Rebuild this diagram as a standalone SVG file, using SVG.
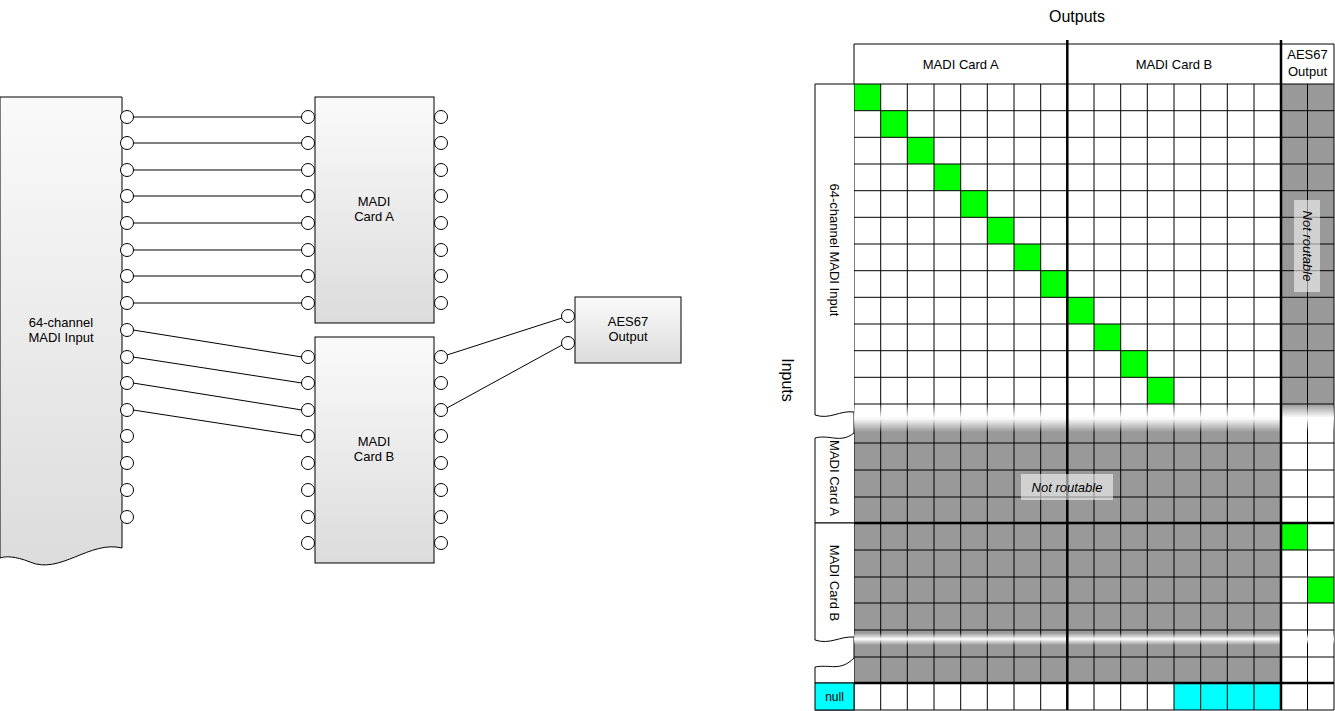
<svg xmlns="http://www.w3.org/2000/svg" width="1335" height="711" viewBox="0 0 1335 711">
<style>
text{font-family:"Liberation Sans",Arial,sans-serif;font-size:13px;fill:#000}
.box{stroke:#000;stroke-width:1;fill:url(#g)}
.p{fill:#fff;stroke:#000;stroke-width:1}
.c line,.c path{stroke:#000;stroke-width:1;fill:none}
.gl{stroke:#000;stroke-width:1}
.tk{stroke:#000;stroke-width:2.5}
.lab{fill:#fff;stroke:#000;stroke-width:1}
.nr{fill:#fff;fill-opacity:0.55}
</style>
<defs>
<linearGradient id="g" x1="0" y1="0" x2="0" y2="1"><stop offset="0" stop-color="#fafafa"/><stop offset="1" stop-color="#dcdcdc"/></linearGradient>
<linearGradient id="fade" x1="0" y1="0" x2="0" y2="1"><stop offset="0" stop-color="#fff" stop-opacity="0"/><stop offset="0.5" stop-color="#fff" stop-opacity="1"/><stop offset="1" stop-color="#fff" stop-opacity="0"/></linearGradient>
</defs>
<rect width="1335" height="711" fill="#fff"/>

<g id="madi-input">
<path class="box" d="M0,97 H122 V548 C90,540 60,575 30,562 C15,556 5,556 0,558 Z"/>
<text x="61" y="327" text-anchor="middle">64-channel</text>
<text x="61" y="342" text-anchor="middle">MADI Input</text>
<g class="p">
<circle cx="127" cy="117" r="6.5"/><circle cx="127" cy="143" r="6.5"/><circle cx="127" cy="170" r="6.5"/><circle cx="127" cy="196" r="6.5"/><circle cx="127" cy="223" r="6.5"/><circle cx="127" cy="250" r="6.5"/><circle cx="127" cy="276" r="6.5"/><circle cx="127" cy="303" r="6.5"/><circle cx="127" cy="330" r="6.5"/><circle cx="127" cy="357" r="6.5"/><circle cx="127" cy="383" r="6.5"/><circle cx="127" cy="410" r="6.5"/><circle cx="127" cy="436" r="6.5"/><circle cx="127" cy="463" r="6.5"/><circle cx="127" cy="490" r="6.5"/><circle cx="127" cy="517" r="6.5"/>
</g>
</g>

<g id="card-a">
<rect class="box" x="315" y="97" width="119" height="226"/>
<text x="374" y="206" text-anchor="middle">MADI</text>
<text x="374" y="221" text-anchor="middle">Card A</text>
<g class="p">
<circle cx="308" cy="117" r="6.5"/><circle cx="308" cy="143" r="6.5"/><circle cx="308" cy="170" r="6.5"/><circle cx="308" cy="196" r="6.5"/><circle cx="308" cy="223" r="6.5"/><circle cx="308" cy="250" r="6.5"/><circle cx="308" cy="276" r="6.5"/><circle cx="308" cy="303" r="6.5"/>
<circle cx="441" cy="117" r="6.5"/><circle cx="441" cy="143" r="6.5"/><circle cx="441" cy="170" r="6.5"/><circle cx="441" cy="196" r="6.5"/><circle cx="441" cy="223" r="6.5"/><circle cx="441" cy="250" r="6.5"/><circle cx="441" cy="276" r="6.5"/><circle cx="441" cy="303" r="6.5"/>
</g>
</g>

<g id="card-b">
<rect class="box" x="315" y="337" width="119" height="226"/>
<text x="374" y="446" text-anchor="middle">MADI</text>
<text x="374" y="461" text-anchor="middle">Card B</text>
<g class="p">
<circle cx="308" cy="357" r="6.5"/><circle cx="308" cy="383" r="6.5"/><circle cx="308" cy="410" r="6.5"/><circle cx="308" cy="436" r="6.5"/><circle cx="308" cy="463" r="6.5"/><circle cx="308" cy="490" r="6.5"/><circle cx="308" cy="517" r="6.5"/><circle cx="308" cy="543" r="6.5"/>
<circle cx="441" cy="357" r="6.5"/><circle cx="441" cy="383" r="6.5"/><circle cx="441" cy="410" r="6.5"/><circle cx="441" cy="436" r="6.5"/><circle cx="441" cy="463" r="6.5"/><circle cx="441" cy="490" r="6.5"/><circle cx="441" cy="517" r="6.5"/><circle cx="441" cy="543" r="6.5"/>
</g>
</g>

<g id="aes67">
<rect class="box" x="575" y="297" width="106" height="66"/>
<text x="628" y="326" text-anchor="middle">AES67</text>
<text x="628" y="341" text-anchor="middle">Output</text>
<g class="p"><circle cx="568" cy="316" r="6.5"/><circle cx="568" cy="343" r="6.5"/></g>
</g>

<g id="connectors" class="c">
<line x1="133" y1="117" x2="302" y2="117"/><line x1="133" y1="143" x2="302" y2="143"/><line x1="133" y1="170" x2="302" y2="170"/><line x1="133" y1="196" x2="302" y2="196"/><line x1="133" y1="223" x2="302" y2="223"/><line x1="133" y1="250" x2="302" y2="250"/><line x1="133" y1="276" x2="302" y2="276"/><line x1="133" y1="303" x2="302" y2="303"/>
<line x1="133" y1="330" x2="302" y2="357"/><line x1="133" y1="357" x2="302" y2="383"/><line x1="133" y1="383" x2="302" y2="410"/><line x1="133" y1="410" x2="302" y2="436"/>
<line x1="447" y1="355" x2="562" y2="318"/><line x1="447" y1="408" x2="562" y2="345"/>
</g>

<g id="matrix">
<text x="1077" y="22" text-anchor="middle" font-size="16" style="font-size:16px">Outputs</text>
<text transform="translate(782,380) rotate(90)" text-anchor="middle" style="font-size:16px">Inputs</text>
<!-- fills -->
<rect x="854" y="417" width="427" height="266" fill="#999"/>
<rect x="1281" y="84" width="53" height="333" fill="#999"/>
<rect x="854" y="84" width="26.7" height="26.7" fill="#0f0"/>
<rect x="880.7" y="110.7" width="26.7" height="26.7" fill="#0f0"/>
<rect x="907.3" y="137.3" width="26.7" height="26.7" fill="#0f0"/>
<rect x="934" y="164" width="26.7" height="26.7" fill="#0f0"/>
<rect x="960.7" y="190.7" width="26.7" height="26.7" fill="#0f0"/>
<rect x="987.3" y="217.3" width="26.7" height="26.7" fill="#0f0"/>
<rect x="1014" y="244" width="26.7" height="26.7" fill="#0f0"/>
<rect x="1040.7" y="270.7" width="26.7" height="26.7" fill="#0f0"/>
<rect x="1067.3" y="297.3" width="26.7" height="26.7" fill="#0f0"/>
<rect x="1094" y="324" width="26.7" height="26.7" fill="#0f0"/>
<rect x="1120.7" y="350.7" width="26.7" height="26.7" fill="#0f0"/>
<rect x="1147.3" y="377.3" width="26.7" height="26.7" fill="#0f0"/>
<rect x="1281" y="523" width="26.5" height="27" fill="#0f0"/>
<rect x="1307.5" y="577" width="26.5" height="26" fill="#0f0"/>
<rect x="1174" y="683" width="107" height="27" fill="#0ff"/>
<!-- grid -->
<g class="gl">
<line x1="854" y1="44" x2="1334" y2="44"/>
<line x1="854" y1="44" x2="854" y2="710"/><line x1="1334" y1="44" x2="1334" y2="710"/>
<g>
<line x1="880.7" y1="84" x2="880.7" y2="710"/><line x1="907.3" y1="84" x2="907.3" y2="710"/><line x1="934" y1="84" x2="934" y2="710"/><line x1="960.7" y1="84" x2="960.7" y2="710"/><line x1="987.3" y1="84" x2="987.3" y2="710"/><line x1="1014" y1="84" x2="1014" y2="710"/><line x1="1040.7" y1="84" x2="1040.7" y2="710"/>
<line x1="1094" y1="84" x2="1094" y2="710"/><line x1="1120.7" y1="84" x2="1120.7" y2="710"/><line x1="1147.3" y1="84" x2="1147.3" y2="710"/><line x1="1174" y1="84" x2="1174" y2="710"/><line x1="1200.7" y1="84" x2="1200.7" y2="710"/><line x1="1227.3" y1="84" x2="1227.3" y2="710"/><line x1="1254" y1="84" x2="1254" y2="710"/>
<line x1="1307.5" y1="84" x2="1307.5" y2="710"/>
</g>
<line x1="854" y1="84" x2="1334" y2="84"/>
<line x1="854" y1="110.7" x2="1334" y2="110.7"/><line x1="854" y1="137.3" x2="1334" y2="137.3"/><line x1="854" y1="164" x2="1334" y2="164"/><line x1="854" y1="190.7" x2="1334" y2="190.7"/><line x1="854" y1="217.3" x2="1334" y2="217.3"/><line x1="854" y1="244" x2="1334" y2="244"/><line x1="854" y1="270.7" x2="1334" y2="270.7"/><line x1="854" y1="297.3" x2="1334" y2="297.3"/><line x1="854" y1="324" x2="1334" y2="324"/><line x1="854" y1="350.7" x2="1334" y2="350.7"/><line x1="854" y1="377.3" x2="1334" y2="377.3"/><line x1="854" y1="404" x2="1334" y2="404"/>
<line x1="854" y1="443" x2="1334" y2="443"/><line x1="854" y1="470" x2="1334" y2="470"/><line x1="854" y1="497" x2="1334" y2="497"/>
<line x1="854" y1="550" x2="1334" y2="550"/><line x1="854" y1="577" x2="1334" y2="577"/><line x1="854" y1="603" x2="1334" y2="603"/><line x1="854" y1="630" x2="1334" y2="630"/><line x1="854" y1="657" x2="1334" y2="657"/>
<line x1="815" y1="710" x2="1334" y2="710"/>
</g>
<rect x="854" y="404" width="480" height="28" fill="url(#fade)"/>
<rect x="854" y="633" width="480" height="12" fill="url(#fade)"/>
<g class="tk">
<line x1="1067.3" y1="40" x2="1067.3" y2="710"/><line x1="1281" y1="40" x2="1281" y2="710"/>
<line x1="815" y1="523" x2="1334" y2="523"/><line x1="815" y1="683" x2="1334" y2="683"/>
</g>
<text x="960.7" y="69" text-anchor="middle">MADI Card A</text>
<text x="1174" y="69" text-anchor="middle">MADI Card B</text>
<text x="1307.5" y="59" text-anchor="middle">AES67</text>
<text x="1307.5" y="76" text-anchor="middle">Output</text>
<!-- row labels -->
<path class="lab" d="M854,84 H815 V415 C830,420 840,410 854,412"/>
<text transform="translate(830,250) rotate(90)" text-anchor="middle">64-channel MADI Input</text>
<path class="lab" d="M854,523 H815 V438 C830,434 840,444 854,433"/>
<text transform="translate(830,478) rotate(90)" text-anchor="middle">MADI Card A</text>
<path class="lab" d="M854,523 H815 V640 C830,645 840,636 854,637"/>
<text transform="translate(830,583) rotate(90)" text-anchor="middle">MADI Card B</text>
<path class="lab" d="M854,683 H815 V667 C830,664 840,672 854,658"/>
<rect x="815" y="683" width="39" height="27" fill="#0ff" stroke="#000"/>
<text x="834.5" y="701" text-anchor="middle" style="font-size:12px">null</text>
<rect class="nr" x="1021" y="474" width="92" height="26"/>
<text x="1067" y="492" text-anchor="middle" font-style="italic">Not routable</text>
<rect class="nr" x="1294" y="200" width="26" height="92"/>
<text transform="translate(1303,246) rotate(90)" text-anchor="middle" font-style="italic">Not routable</text>
</g>
</svg>
